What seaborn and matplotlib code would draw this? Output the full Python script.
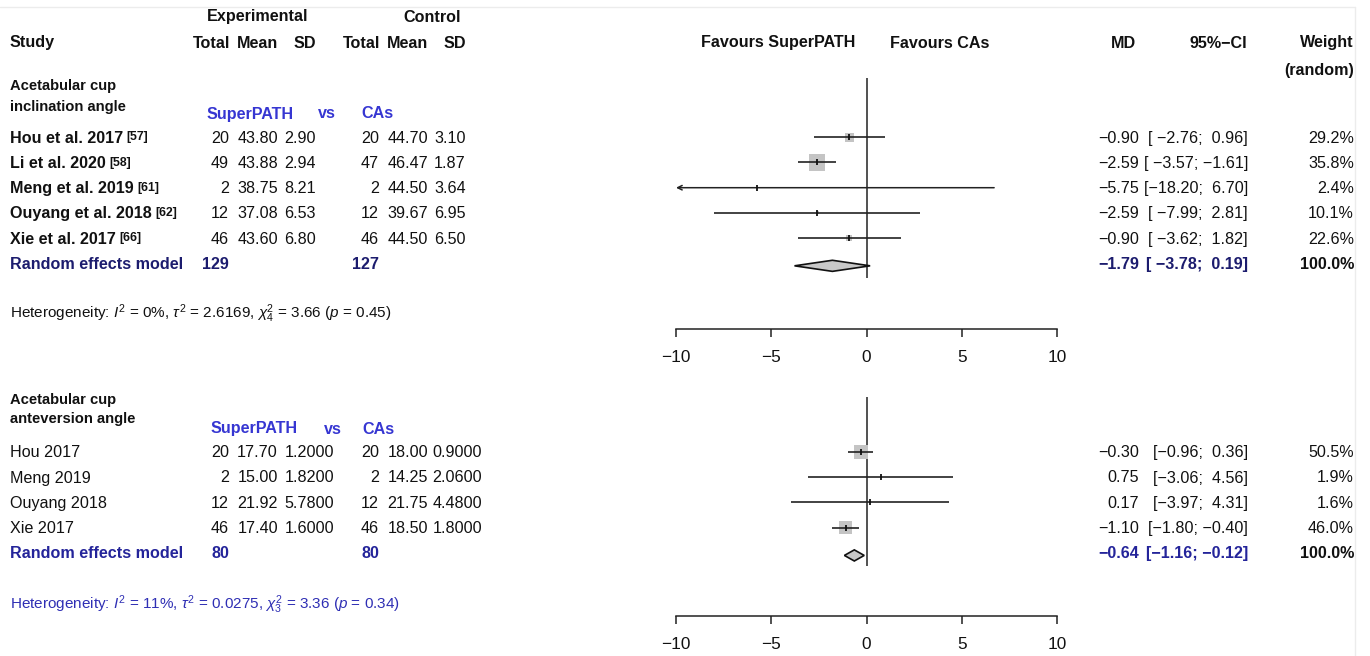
import numpy as np
import matplotlib
matplotlib.use('Agg')
import matplotlib.pyplot as plt
import seaborn as sns

# ---- data: acetabular cup inclination angle ----
inc_study = ['Hou et al. 2017', 'Li et al. 2020', 'Meng et al. 2019',
             'Ouyang et al. 2018', 'Xie et al. 2017']
inc_ref = ['[57]', '[58]', '[61]', '[62]', '[66]']
inc_exp_n = [20, 49, 2, 12, 46]
inc_exp_mean = [43.80, 43.88, 38.75, 37.08, 43.60]
inc_exp_sd = [2.90, 2.94, 8.21, 6.53, 6.80]
inc_ctl_n = [20, 47, 2, 12, 46]
inc_ctl_mean = [44.70, 46.47, 44.50, 39.67, 44.50]
inc_ctl_sd = [3.10, 1.87, 3.64, 6.95, 6.50]
inc_md = [-0.90, -2.59, -5.75, -2.59, -0.90]
inc_lo = [-2.76, -3.57, -18.20, -7.99, -3.62]
inc_hi = [0.96, -1.61, 6.70, 2.81, 1.82]
inc_weight = [29.2, 35.8, 2.4, 10.1, 22.6]
inc_pooled = [-1.79, -3.78, 0.19]
inc_total = [129, 127]
inc_het = (r'Heterogeneity: $I^2$ = 0%, $\tau^2$ = 2.6169, '
           r'$\chi^2_4$ = 3.66 ($p$ = 0.45)')

# ---- data: acetabular cup anteversion angle ----
ant_study = ['Hou 2017', 'Meng 2019', 'Ouyang 2018', 'Xie 2017']
ant_exp_n = [20, 2, 12, 46]
ant_exp_mean = [17.70, 15.00, 21.92, 17.40]
ant_exp_sd = [1.2, 1.82, 5.78, 1.6]
ant_ctl_n = [20, 2, 12, 46]
ant_ctl_mean = [18.00, 14.25, 21.75, 18.50]
ant_ctl_sd = [0.9, 2.06, 4.48, 1.8]
ant_md = [-0.30, 0.75, 0.17, -1.10]
ant_lo = [-0.96, -3.06, -3.97, -1.80]
ant_hi = [0.36, 4.56, 4.31, -0.40]
ant_weight = [50.5, 1.9, 1.6, 46.0]
ant_pooled = [-0.64, -1.16, -0.12]
ant_total = [80, 80]
ant_het = (r'Heterogeneity: $I^2$ = 11%, $\tau^2$ = 0.0275, '
           r'$\chi^2_3$ = 3.36 ($p$ = 0.34)')

xticks = [-10, -5, 0, 5, 10]

sns.set_theme(style='white')
plt.rcParams['font.family'] = ['Liberation Sans', 'DejaVu Sans']
plt.rcParams['mathtext.fontset'] = 'custom'
plt.rcParams['mathtext.rm'] = 'Liberation Sans'
plt.rcParams['mathtext.it'] = 'Liberation Sans:italic'
plt.rcParams['mathtext.bf'] = 'Liberation Sans:bold'

W, H = 1370, 656
fig = plt.figure(figsize=(W / 100, H / 100), dpi=100)
fig.patch.set_facecolor('white')
ov = fig.add_axes([0, 0, 1, 1])
ov.set_xlim(0, W)
ov.set_ylim(H, 0)
ov.axis('off')

FS = 11.6
BLUE = '#3636d2'
NAVY = '#1c1c6e'
NAVY2 = '#24249a'
TXT = '#111111'

# faint frame seen in the scan
ov.plot([0, 1355], [7, 7], color='#ececec', lw=1)
ov.plot([1355, 1355], [7, H], color='#ececec', lw=1)


def T(x, y, s, ha='left', bold=False, color=TXT, size=FS):
    return ov.text(x, y + 1, s, ha=ha, va='center', fontsize=size, color=color,
                   fontweight='bold' if bold else 'normal')


def fmt(v, d=2):
    return f'{v:.{d}f}'.replace('-', '\u2212')


def ci(lo, hi, w):
    return f'[{lo:{w}.2f}; {hi:5.2f}]'.replace('-', '\u2212')


# column headers
T(258, 16, 'Experimental', ha='center', bold=True)
T(432, 16, 'Control', ha='center', bold=True)
T(10, 42, 'Study', bold=True)
for x, s in [(230, 'Total'), (278, 'Mean'), (316, 'SD'),
             (380, 'Total'), (428, 'Mean'), (466, 'SD')]:
    T(x, 42, s, ha='right', bold=True)
T(778, 42, 'Favours SuperPATH', ha='center', bold=True)
T(940, 42, 'Favours CAs', ha='center', bold=True)
T(1136, 42, 'MD', ha='right', bold=True)
T(1247, 42, '95%\u2212CI', ha='right', bold=True)
T(1354, 42, 'Weight', ha='right', bold=True)
T(1354, 70, '(random)', ha='right', bold=True)


def panel(top, bottom, row0, pitch, zl, study, refs, en, em, esd, cn, cm, csd,
          md, lo, hi, wt, pooled, total, het, title, sdd, het_y,
          sub_pos, rem_color, het_color, names_bold, ci_w, sd_right, cs_right):
    ys = [row0 + pitch * i for i in range(len(study) + 1)]
    # left text block
    T(10, title[1], title[0][0], bold=True, size=FS - 1)
    T(10, title[2], title[0][1], bold=True, size=FS - 1)
    T(sub_pos[0], sub_pos[1], 'SuperPATH', bold=True, color=BLUE)
    T(sub_pos[2], sub_pos[1], 'vs', bold=True, color=BLUE)
    T(sub_pos[3], sub_pos[1], 'CAs', bold=True, color=BLUE)
    for i, y in enumerate(ys[:-1]):
        t = T(10, y, study[i], bold=names_bold)
        if refs:
            ov.annotate(refs[i], xy=(1, 1), xycoords=t, xytext=(2.5, -0.5),
                        textcoords='offset points', ha='left', va='top',
                        fontsize=8.8, fontweight='bold', color=TXT)
        T(229, y, str(en[i]), ha='right')
        T(278, y, fmt(em[i]), ha='right')
        T(sd_right, y, fmt(esd[i], sdd), ha='right')
        T(379, y, str(cn[i]), ha='right')
        T(428, y, fmt(cm[i]), ha='right')
        T(cs_right, y, fmt(csd[i], sdd), ha='right')
        T(1139, y, fmt(md[i]), ha='right')
        T(1248, y, ci(lo[i], hi[i], ci_w), ha='right')
        T(1354, y, f'{wt[i]:.1f}%', ha='right')
    yr = ys[-1]
    T(10, yr, 'Random effects model', bold=True, color=rem_color)
    T(229, yr, str(total[0]), ha='right', bold=True, color=rem_color)
    T(379, yr, str(total[1]), ha='right', bold=True, color=rem_color)
    T(1139, yr, fmt(pooled[0]), ha='right', bold=True, color=rem_color)
    T(1248, yr, ci(pooled[1], pooled[2], ci_w), ha='right', bold=True,
      color=rem_color)
    T(1354, yr, '100.0%', ha='right', bold=True)
    T(10, het_y, het, color=het_color, size=FS - 0.6)

    # forest axes, rows in index units
    ax = fig.add_axes([676 / W, 1 - bottom / H, (1057 - 676) / W,
                       (bottom - top) / H])
    ax.set_xlim(-10, 10)
    ax.set_ylim((bottom - row0) / pitch, (top - row0) / pitch)
    ax.set_facecolor('none')
    for s in ['top', 'left', 'right']:
        ax.spines[s].set_visible(False)
    ax.spines['bottom'].set_color('#222222')
    ax.spines['bottom'].set_linewidth(1.1)
    ax.set_yticks([])
    ax.set_xticks(xticks)
    ax.tick_params(axis='x', direction='out', length=6, width=1.1,
                   color='#222222', pad=9, labelsize=FS + 0.8,
                   labelcolor=TXT, bottom=True)

    rows = np.arange(len(study))
    lo_a, hi_a, md_a = np.array(lo), np.array(hi), np.array(md)
    w_iv = 1 / ((hi_a - lo_a) / 3.92) ** 2
    frac = w_iv / w_iv.sum()
    sns.scatterplot(x=md_a, y=rows, size=frac, sizes=(0, (19.3 * 0.72) ** 2),
                    size_norm=(0, 1), marker='s', color='#c4c4c4',
                    linewidth=0, legend=False, ax=ax, zorder=2)
    for r in rows:
        if lo_a[r] < -10:
            ax.annotate('', xy=(-10, r), xytext=(hi_a[r], r),
                        arrowprops=dict(arrowstyle='->', lw=1.1,
                                        color='#222222', shrinkA=0,
                                        shrinkB=0, mutation_scale=8),
                        zorder=3)
        else:
            ax.hlines(r, lo_a[r], hi_a[r], color='#222222', lw=1.2, zorder=3)
    ax.plot(md_a, rows, ls='none', marker='|', ms=5, mew=1.3,
            color='#111111', zorder=4)
    n = len(study)
    yz = (zl[0] - row0) / pitch, (zl[1] - row0) / pitch
    ax.vlines(0, yz[0], yz[1], color='#333333', lw=1.2, zorder=1)
    ax.fill([pooled[1], pooled[0], pooled[2], pooled[0]],
            [n + 0.1, n - 0.12, n + 0.1, n + 0.32],
            facecolor='#c8c8c8', edgecolor='#111111', lw=1.2, zorder=5)
    return ax


panel(60, 329, 137.3, 25.2, (78, 278), inc_study, inc_ref,
      inc_exp_n, inc_exp_mean, inc_exp_sd, inc_ctl_n, inc_ctl_mean, inc_ctl_sd,
      inc_md, inc_lo, inc_hi, inc_weight, inc_pooled, inc_total, inc_het,
      (('Acetabular cup', 'inclination angle'), 85, 106), 2, 313,
      (207, 113, 318, 361), NAVY, TXT, True, 6, 316, 466)

panel(380, 616, 451.7, 25.3, (397, 566), ant_study, None,
      ant_exp_n, ant_exp_mean, ant_exp_sd, ant_ctl_n, ant_ctl_mean, ant_ctl_sd,
      ant_md, ant_lo, ant_hi, ant_weight, ant_pooled, ant_total, ant_het,
      (('Acetabular cup', 'anteversion angle'), 399, 418), 4, 604,
      (211, 428, 324, 362), NAVY2, '#2f2fb4', False, 5, 334, 482)

fig.savefig('out.png', dpi=100, facecolor='white')
